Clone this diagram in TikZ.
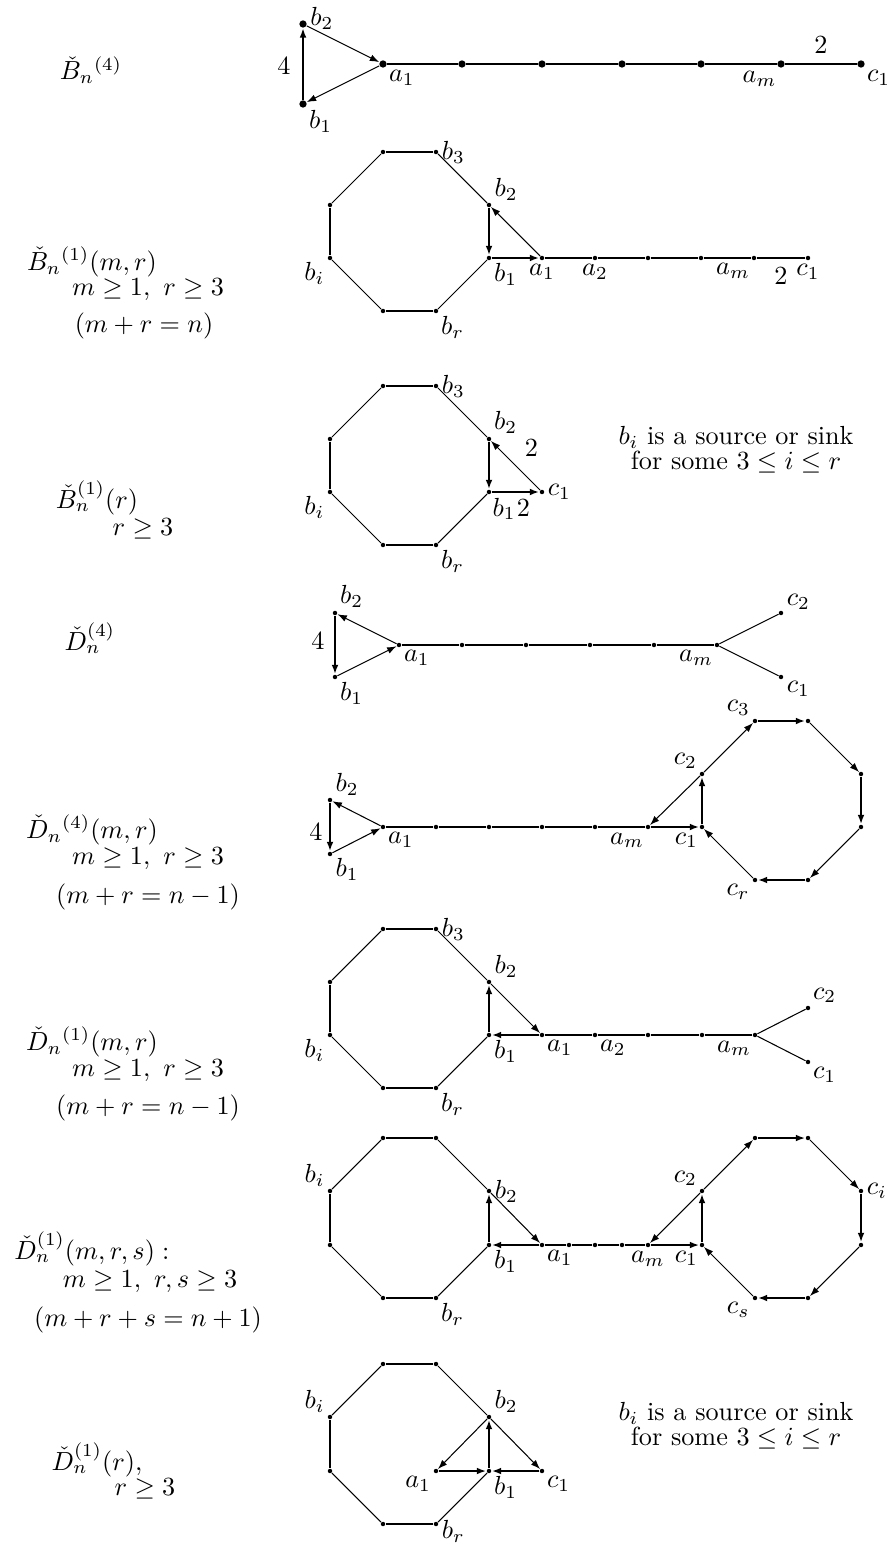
\documentclass[tikz,border=0pt]{standalone}
\usepackage{amssymb}
\usetikzlibrary{arrows.meta}

\begin{document}
\begin{tikzpicture}[
    x=0.382pt, y=-0.382pt,
    dot/.style={circle, fill=black, inner sep=0pt, minimum size=1.7pt},
    bigdot/.style={dot, minimum size=2.8pt},
    thk/.style={line width=1pt},
    thn/.style={line width=0.4pt},
    arr/.style={-{Latex[length=3.6pt,width=2.6pt]}},
    every label/.style={inner sep=1pt},
    ttl/.style={inner sep=0pt},
    note/.style={align=center, inner sep=0pt},
]
\useasboundingbox (0,0) rectangle (891,1549);

% B_n^(4)
\node[ttl] (t1) at (91,70) {$\check{B}_n{}^{(4)}$};
\node[bigdot, label={[yshift=2pt]right:$b_2$}] (r1b2) at (303,24) {};
\node[bigdot, label={below right:$b_1$}] (r1b1) at (303,104) {};
\node[bigdot, label={below right:$a_1$}] (r1a1) at (383,64) {};
\node[bigdot] (r1d2) at (462,64) {};
\node[bigdot] (r1d3) at (542,64) {};
\node[bigdot] (r1d4) at (622,64) {};
\node[bigdot] (r1d5) at (701,64) {};
\node[bigdot, label={250:$a_m$}] (r1am) at (781,64) {};
\node[bigdot, label={below right:$c_1$}] (r1c1) at (861,64) {};
\node (r1w) at (284,66) {$4$};
\draw[thk, arr] (r1b1) -- (r1b2);
\draw[thn, arr] (r1b2) -- (r1a1);
\draw[thn, arr] (r1a1) -- (r1b1);
\draw[thk] (r1a1) -- (r1d2) -- (r1d3) -- (r1d4) -- (r1d5) -- (r1am) -- node[above] {$2$} (r1c1);

% B_n^(1)(m,r)
\node[ttl] (t2a) at (92,262) {$\check{B}_n{}^{(1)}(m,r)$};
\node[ttl] (t2b) at (148,290) {$m\ge 1,\ r\ge 3$};
\node[ttl] (t2c) at (144,326) {$(m+r=n)$};
\node[dot] (r2o1) at (383,152) {};
\node[dot, label={right:$b_3$}] (r2b3) at (436,152) {};
\node[dot, label={30:$b_2$}] (r2b2) at (489,205) {};
\node[dot, label={below right:$b_1$}] (r2b1) at (489,258) {};
\node[dot, label={below right:$b_r$}] (r2br) at (436,311) {};
\node[dot] (r2o6) at (383,311) {};
\node[dot, label={200:$b_i$}] (r2bi) at (330,258) {};
\node[dot] (r2o8) at (330,205) {};
\node[dot, label={below:$a_1$}] (r2a1) at (542,258) {};
\node[dot, label={below:$a_2$}] (r2a2) at (595,258) {};
\node[dot] (r2d3) at (648,258) {};
\node[dot] (r2d4) at (701,258) {};
\node[dot, label={250:$a_m$}] (r2am) at (754,258) {};
\node[dot, label={below:$c_1$}] (r2c1) at (808,258) {};
\draw[thn] (r2o8) -- (r2o1);
\draw[thk] (r2o1) -- (r2b3);
\draw[thn] (r2b3) -- (r2b2);
\draw[thn] (r2b1) -- (r2br);
\draw[thk] (r2br) -- (r2o6);
\draw[thn] (r2o6) -- (r2bi);
\draw[thk] (r2bi) -- (r2o8);
\draw[thk, arr] (r2b2) -- (r2b1);
\draw[thk, arr] (r2b1) -- (r2a1);
\draw[thn, arr] (r2a1) -- (r2b2);
\draw[thk] (r2a1) -- (r2a2) -- (r2d3) -- (r2d4) -- (r2am) -- node[below] {$2$} (r2c1);

% B_n^(1)(r)
\node[ttl] (t3a) at (97,498) {$\check{B}^{(1)}_n(r)$};
\node[ttl] (t3b) at (143,529) {$r\ge 3$};
\node[dot] (r3o1) at (383,386) {};
\node[dot, label={right:$b_3$}] (r3b3) at (436,386) {};
\node[dot, label={above right:$b_2$}] (r3b2) at (489,439) {};
\node[dot, label={280:$b_1$}] (r3b1) at (489,492) {};
\node[dot, label={below right:$b_r$}] (r3br) at (436,545) {};
\node[dot] (r3o6) at (383,545) {};
\node[dot, label={200:$b_i$}] (r3bi) at (330,492) {};
\node[dot] (r3o8) at (330,439) {};
\node[dot, label={right:$c_1$}] (r3c1) at (542,492) {};
\draw[thn] (r3o8) -- (r3o1);
\draw[thk] (r3o1) -- (r3b3);
\draw[thn] (r3b3) -- (r3b2);
\draw[thn] (r3b1) -- (r3br);
\draw[thk] (r3br) -- (r3o6);
\draw[thn] (r3o6) -- (r3bi);
\draw[thk] (r3bi) -- (r3o8);
\draw[thk, arr] (r3b2) -- (r3b1);
\draw[thk, arr] (r3b1) -- node[below, xshift=3pt, yshift=1pt] {$2$} (r3c1);
\draw[thn, arr] (r3c1) -- node[above right] {$2$} (r3b2);
\node[note] (r3txt) at (736,450) {$b_i$ is a source or sink\\[-2.5pt]for some $3\le i\le r$};

% D_n^(4)
\node[ttl] (t4) at (90,638) {$\check{D}^{(4)}_n$};
\node[dot, label={above right:$b_2$}] (r4b2) at (335,613) {};
\node[dot, label={below right:$b_1$}] (r4b1) at (335,677) {};
\node[dot, label={below right:$a_1$}] (r4a1) at (399,645) {};
\node[dot] (r4d2) at (462,645) {};
\node[dot] (r4d3) at (526,645) {};
\node[dot] (r4d4) at (590,645) {};
\node[dot] (r4d5) at (654,645) {};
\node[dot, label={250:$a_m$}] (r4am) at (717,645) {};
\node[dot, label={15:$c_2$}] (r4c2) at (781,613) {};
\node[dot, label={-15:$c_1$}] (r4c1) at (781,677) {};
\node (r4w) at (318,641) {$4$};
\draw[thk, arr] (r4b2) -- (r4b1);
\draw[thn, arr] (r4b1) -- (r4a1);
\draw[thn, arr] (r4a1) -- (r4b2);
\draw[thk] (r4a1) -- (r4d2) -- (r4d3) -- (r4d4) -- (r4d5) -- (r4am);
\draw[thn] (r4am) -- (r4c2);
\draw[thn] (r4am) -- (r4c1);

% D_n^(4)(m,r)
\node[ttl] (t5a) at (92,830) {$\check{D}_n{}^{(4)}(m,r)$};
\node[ttl] (t5b) at (148,859) {$m\ge 1,\ r\ge 3$};
\node[ttl] (t5c) at (148,897) {$(m+r=n-1)$};
\node[dot, label={30:$b_2$}] (r5b2) at (330,800) {};
\node[dot, label={-30:$b_1$}] (r5b1) at (330,854) {};
\node[dot, label={below right:$a_1$}] (r5a1) at (383,827) {};
\node[dot] (r5d2) at (436,827) {};
\node[dot] (r5d3) at (489,827) {};
\node[dot] (r5d4) at (542,827) {};
\node[dot] (r5d5) at (595,827) {};
\node[dot, label={250:$a_m$}] (r5am) at (648,827) {};
\node[dot, label={250:$c_1$}] (r5c1) at (702,827) {};
\node[dot, label={above left:$c_2$}] (r5c2) at (702,774) {};
\node[dot, label={above left:$c_3$}] (r5c3) at (755,721) {};
\node[dot] (r5c4) at (808,721) {};
\node[dot] (r5c5) at (861,774) {};
\node[dot] (r5c6) at (861,827) {};
\node[dot] (r5c7) at (808,880) {};
\node[dot, label={210:$c_r$}] (r5cr) at (755,880) {};
\node (r5w) at (316,832) {$4$};
\draw[thk, arr] (r5b2) -- (r5b1);
\draw[thn, arr] (r5b1) -- (r5a1);
\draw[thn, arr] (r5a1) -- (r5b2);
\draw[thk] (r5a1) -- (r5d2) -- (r5d3) -- (r5d4) -- (r5d5) -- (r5am);
\draw[thk, arr] (r5am) -- (r5c1);
\draw[thk, arr] (r5c1) -- (r5c2);
\draw[thn, arr] (r5c2) -- (r5am);
\draw[thn, arr] (r5c2) -- (r5c3);
\draw[thk, arr] (r5c3) -- (r5c4);
\draw[thn, arr] (r5c4) -- (r5c5);
\draw[thk, arr] (r5c5) -- (r5c6);
\draw[thn, arr] (r5c6) -- (r5c7);
\draw[thk, arr] (r5c7) -- (r5cr);
\draw[thn, arr] (r5cr) -- (r5c1);

% D_n^(1)(m,r)
\node[ttl] (t6a) at (92,1042) {$\check{D}_n{}^{(1)}(m,r)$};
\node[ttl] (t6b) at (148,1071) {$m\ge 1,\ r\ge 3$};
\node[ttl] (t6c) at (148,1108) {$(m+r=n-1)$};
\node[dot] (r6o1) at (383,929) {};
\node[dot, label={right:$b_3$}] (r6b3) at (436,929) {};
\node[dot, label={30:$b_2$}] (r6b2) at (489,982) {};
\node[dot, label={below right:$b_1$}] (r6b1) at (489,1035) {};
\node[dot, label={below right:$b_r$}] (r6br) at (436,1088) {};
\node[dot] (r6o6) at (383,1088) {};
\node[dot, label={200:$b_i$}] (r6bi) at (330,1035) {};
\node[dot] (r6o8) at (330,982) {};
\node[dot, label={below right:$a_1$}] (r6a1) at (542,1035) {};
\node[dot, label={below right:$a_2$}] (r6a2) at (595,1035) {};
\node[dot] (r6d3) at (648,1035) {};
\node[dot] (r6d4) at (702,1035) {};
\node[dot, label={250:$a_m$}] (r6am) at (755,1035) {};
\node[dot, label={above right:$c_2$}] (r6c2) at (808,1008) {};
\node[dot, label={below right:$c_1$}] (r6c1) at (808,1062) {};
\draw[thn] (r6o8) -- (r6o1);
\draw[thk] (r6o1) -- (r6b3);
\draw[thn] (r6b3) -- (r6b2);
\draw[thn] (r6b1) -- (r6br);
\draw[thk] (r6br) -- (r6o6);
\draw[thn] (r6o6) -- (r6bi);
\draw[thk] (r6bi) -- (r6o8);
\draw[thk, arr] (r6b1) -- (r6b2);
\draw[thn, arr] (r6b2) -- (r6a1);
\draw[thk, arr] (r6a1) -- (r6b1);
\draw[thk] (r6a1) -- (r6a2) -- (r6d3) -- (r6d4) -- (r6am);
\draw[thn] (r6am) -- (r6c2);
\draw[thn] (r6am) -- (r6c1);

% D_n^(1)(m,r,s)
\node[ttl] (t7a) at (92,1249) {$\check{D}^{(1)}_n(m,r,s):$};
\node[ttl] (t7b) at (150,1282) {$m\ge 1,\ r,s\ge 3$};
\node[ttl] (t7c) at (148,1320) {$(m+r+s=n+1)$};
\node[dot] (r7o1) at (383,1138) {};
\node[dot] (r7o2) at (436,1138) {};
\node[dot, label={right:$b_2$}] (r7b2) at (489,1191) {};
\node[dot, label={below right:$b_1$}] (r7b1) at (489,1245) {};
\node[dot, label={below right:$b_r$}] (r7br) at (436,1298) {};
\node[dot] (r7o6) at (383,1298) {};
\node[dot] (r7o7) at (330,1245) {};
\node[dot, label={150:$b_i$}] (r7bi) at (330,1191) {};
\node[dot, label={below right:$a_1$}] (r7a1) at (542,1245) {};
\node[dot] (r7d2) at (569,1245) {};
\node[dot] (r7d3) at (595,1245) {};
\node[dot] (r7d4) at (622,1245) {};
\node[dot, label={below:$a_m$}] (r7am) at (648,1245) {};
\node[dot, label={250:$c_1$}] (r7c1) at (702,1245) {};
\node[dot, label={above left:$c_2$}] (r7c2) at (702,1191) {};
\node[dot] (r7c3) at (755,1138) {};
\node[dot] (r7c4) at (808,1138) {};
\node[dot, label={right:$c_i$}] (r7ci) at (861,1191) {};
\node[dot] (r7c6) at (861,1245) {};
\node[dot] (r7c7) at (808,1298) {};
\node[dot, label={210:$c_s$}] (r7cs) at (755,1298) {};
\draw[thn] (r7bi) -- (r7o1);
\draw[thk] (r7o1) -- (r7o2);
\draw[thn] (r7o2) -- (r7b2);
\draw[thn] (r7b1) -- (r7br);
\draw[thk] (r7br) -- (r7o6);
\draw[thn] (r7o6) -- (r7o7);
\draw[thk] (r7o7) -- (r7bi);
\draw[thk, arr] (r7b1) -- (r7b2);
\draw[thn, arr] (r7b2) -- (r7a1);
\draw[thk, arr] (r7a1) -- (r7b1);
\draw[thk] (r7a1) -- (r7d2) -- (r7d3) -- (r7d4) -- (r7am);
\draw[thk, arr] (r7am) -- (r7c1);
\draw[thk, arr] (r7c1) -- (r7c2);
\draw[thn, arr] (r7c2) -- (r7am);
\draw[thn, arr] (r7c2) -- (r7c3);
\draw[thk, arr] (r7c3) -- (r7c4);
\draw[thn, arr] (r7c4) -- (r7ci);
\draw[thk, arr] (r7ci) -- (r7c6);
\draw[thn, arr] (r7c6) -- (r7c7);
\draw[thk, arr] (r7c7) -- (r7cs);
\draw[thn, arr] (r7cs) -- (r7c1);

% D_n^(1)(r)
\node[ttl] (t8a) at (97,1460) {$\check{D}^{(1)}_n(r),$};
\node[ttl] (t8b) at (145,1489) {$r\ge 3$};
\node[dot] (r8o1) at (383,1364) {};
\node[dot] (r8o2) at (436,1364) {};
\node[dot, label={30:$b_2$}] (r8b2) at (489,1417) {};
\node[dot, label={below right:$b_1$}] (r8b1) at (489,1471) {};
\node[dot, label={[yshift=-3pt]right:$b_r$}] (r8br) at (436,1524) {};
\node[dot] (r8o6) at (383,1524) {};
\node[dot] (r8o7) at (330,1471) {};
\node[dot, label={150:$b_i$}] (r8bi) at (330,1417) {};
\node[dot, label={below left:$a_1$}] (r8a1) at (436,1471) {};
\node[dot, label={below right:$c_1$}] (r8c1) at (542,1471) {};
\draw[thn] (r8bi) -- (r8o1);
\draw[thk] (r8o1) -- (r8o2);
\draw[thn] (r8o2) -- (r8b2);
\draw[thn] (r8b1) -- (r8br);
\draw[thk] (r8br) -- (r8o6);
\draw[thn] (r8o6) -- (r8o7);
\draw[thk] (r8o7) -- (r8bi);
\draw[thk, arr] (r8b1) -- (r8b2);
\draw[thn, arr] (r8b2) -- (r8a1);
\draw[thn, arr] (r8b2) -- (r8c1);
\draw[thk, arr] (r8a1) -- (r8b1);
\draw[thk, arr] (r8c1) -- (r8b1);
\node[note] (r8txt) at (736,1426) {$b_i$ is a source or sink\\[-2.5pt]for some $3\le i\le r$};
\end{tikzpicture}
\end{document}
